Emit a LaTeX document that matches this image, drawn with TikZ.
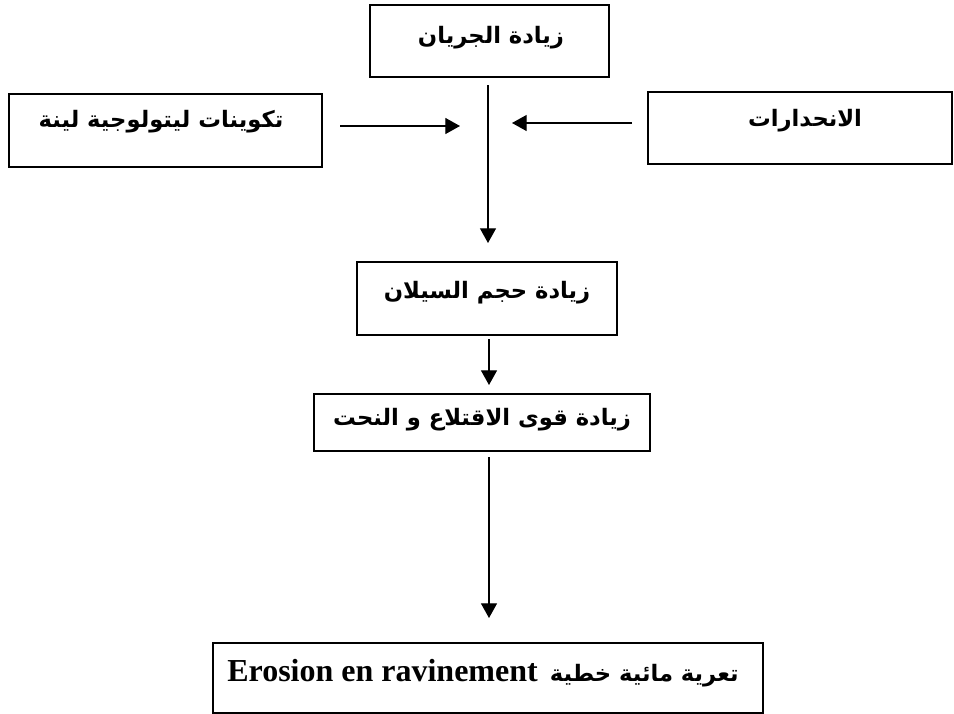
\documentclass[tikz,border=0pt]{standalone}
\usepackage{fontspec}
\setmainfont{Liberation Serif}
\newfontfamily\arabicfont[Script=Arabic]{DejaVu Sans}
\TeXXeTstate=1
\usetikzlibrary{arrows.meta}
\begin{document}
\begin{tikzpicture}[x=0.75pt,y=-0.75pt,
  box/.style={draw,line width=1.4pt,inner sep=0pt},
  ar/.style={font=\arabicfont\bfseries\fontsize{17}{20}\selectfont},
  conn/.style={line width=0.9pt,-{Triangle[length=11pt,width=12pt]}}]
\useasboundingbox (0,0) rectangle (954,714);
% boxes
\draw[box] (370,5) rectangle (609,77);
\draw[box] (9,94) rectangle (322,167);
\draw[box] (648,92) rectangle (952,164);
\draw[box] (357,262) rectangle (617,335);
\draw[box] (314,394) rectangle (650,451);
\draw[box] (213,643) rectangle (763,713);
% texts
\node[ar] (t1) at (491,38) {\beginR زيادة الجريان\endR};
\node[ar] (t2) at (161,122) {\beginR تكوينات ليتولوجية لينة\endR};
\node[ar] (t3) at (805,121) {\beginR الانحدارات\endR};
\node[ar] (t4) at (487,293) {\beginR زيادة حجم السيلان\endR};
\node[ar] (t5) at (482,420) {\beginR زيادة قوى الاقتلاع و النحت\endR};
\node (t6) at (483,673) {\fontsize{24}{28}\selectfont\bfseries Erosion en ravinement\hspace{9pt}{\arabicfont\fontsize{17}{20}\selectfont\beginR تعرية مائية خطية\endR}};
% connectors
\coordinate (v1) at (488,85);
\coordinate (v2) at (488,243);
\coordinate (l1) at (340,126);
\coordinate (l2) at (460,126);
\coordinate (r1) at (632,123);
\coordinate (r2) at (512,123);
\coordinate (a1) at (489,339);
\coordinate (a2) at (489,385);
\coordinate (b1) at (489,457);
\coordinate (b2) at (489,618);
\draw[conn] (v1) -- (v2);
\draw[conn] (l1) -- (l2);
\draw[conn] (r1) -- (r2);
\draw[conn] (a1) -- (a2);
\draw[conn] (b1) -- (b2);
\end{tikzpicture}
\end{document}
